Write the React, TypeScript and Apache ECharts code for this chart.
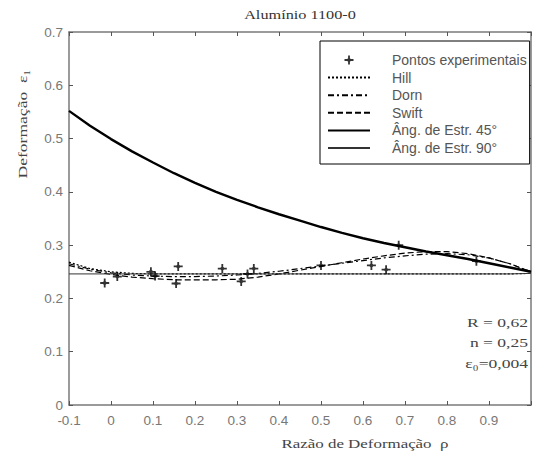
import React, { useEffect, useRef } from "react";
import * as echarts from "echarts";

const xGrid = [-0.1, -0.05, 0, 0.05, 0.1, 0.15, 0.2, 0.25, 0.3, 0.35, 0.4, 0.45, 0.5, 0.55, 0.6, 0.65, 0.7, 0.75, 0.8, 0.85, 0.9, 0.95, 1.0];
const ang45 = [0.552, 0.524, 0.499, 0.476, 0.455, 0.435, 0.417, 0.4, 0.385, 0.371, 0.358, 0.346, 0.334, 0.323, 0.313, 0.304, 0.296, 0.288, 0.281, 0.274, 0.266, 0.258, 0.25];
const ang90 = [0.246, 0.246, 0.246, 0.246, 0.246, 0.246, 0.246, 0.246, 0.246, 0.246, 0.246, 0.246, 0.246, 0.246, 0.246, 0.246, 0.246, 0.246, 0.246, 0.246, 0.246, 0.246, 0.247];
const hill = [0.268, 0.256, 0.25, 0.247, 0.246, 0.246, 0.246, 0.246, 0.246, 0.246, 0.246, 0.246, 0.246, 0.246, 0.246, 0.246, 0.246, 0.246, 0.246, 0.246, 0.246, 0.246, 0.247];
const dorn = [0.265, 0.255, 0.248, 0.244, 0.242, 0.241, 0.241, 0.242, 0.244, 0.247, 0.251, 0.256, 0.261, 0.266, 0.271, 0.276, 0.28, 0.283, 0.284, 0.282, 0.276, 0.265, 0.25];
const swift = [0.262, 0.252, 0.245, 0.24, 0.237, 0.235, 0.235, 0.235, 0.236, 0.24, 0.246, 0.253, 0.26, 0.267, 0.274, 0.28, 0.285, 0.288, 0.288, 0.284, 0.276, 0.265, 0.25];

const expX = [-0.015, 0.015, 0.095, 0.105, 0.16, 0.155, 0.265, 0.31, 0.325, 0.34, 0.5, 0.62, 0.655, 0.685, 0.87];
const expY = [0.229, 0.241, 0.25, 0.242, 0.26, 0.228, 0.256, 0.232, 0.246, 0.256, 0.262, 0.262, 0.254, 0.3, 0.27];

const xTickLabels = ["-0.1", "0", "0.1", "0.2", "0.3", "0.4", "0.5", "0.6", "0.7", "0.8", "0.9", ""];
const yTickLabels = ["0", "0.1", "0.2", "0.3", "0.4", "0.5", "0.6", "0.7"];

const seriesNames = ["Pontos experimentais", "Hill", "Dorn", "Swift", "Âng. de Estr. 45°", "Âng. de Estr. 90°"];
const params = ["R = 0,62", "n = 0,25", "ε₀=0,004"];

const PLUS = "path://M4,0H6V4H10V6H6V10H4V6H0V4H4Z M5,2L8,5L5,8L2,5Z";

const pairs = (ys: number[]) => xGrid.map((x, i) => [x, ys[i]]);

export default function App() {
  const ref = useRef<HTMLDivElement>(null);
  useEffect(() => {
    if (!ref.current) return;
    const chart = echarts.init(ref.current, null, { renderer: "svg" });
    const axisLine = { show: true, onZero: false, lineStyle: { color: "#7a7a7a", width: 1.5 } };
    const tick = { show: true, inside: true, length: 4, lineStyle: { color: "#555", width: 1 } };
    const lineSeries = (name: string, data: number[], width: number, type: any, color = "#000") => ({
      name,
      type: "line",
      data: pairs(data),
      symbol: "none",
      showSymbol: false,
      lineStyle: { color, width, type },
      itemStyle: { color },
      z: 3,
    });
    const serif = "Liberation Serif";
    chart.setOption({
      animation: false,
      backgroundColor: "#fff",
      grid: { left: 69, right: 9, top: 32, bottom: 50 },
      xAxis: [
        {
          type: "value",
          min: -0.1,
          max: 1.0,
          interval: 0.1,
          axisLine,
          axisTick: tick,
          splitLine: { show: false },
          axisLabel: {
            show: true,
            margin: 8,
            color: "#777",
            fontFamily: "Liberation Sans",
            fontSize: 13.5,
            formatter: (v: number) => xTickLabels[Math.round((v + 0.1) * 10)] ?? "",
          },
        },
        {
          type: "value",
          position: "top",
          min: -0.1,
          max: 1.0,
          interval: 0.1,
          axisLine,
          axisTick: tick,
          splitLine: { show: false },
          axisLabel: { show: false },
        },
      ],
      yAxis: [
        {
          type: "value",
          min: 0,
          max: 0.7,
          interval: 0.1,
          axisLine,
          axisTick: tick,
          splitLine: { show: false },
          axisLabel: {
            show: true,
            margin: 6,
            color: "#777",
            fontFamily: "Liberation Sans",
            fontSize: 13.5,
            formatter: (v: number) => yTickLabels[Math.round(v * 10)] ?? "",
          },
        },
        {
          type: "value",
          position: "right",
          min: 0,
          max: 0.7,
          interval: 0.1,
          axisLine,
          axisTick: tick,
          splitLine: { show: false },
          axisLabel: { show: false },
        },
      ],
      legend: {
        orient: "vertical",
        left: 320,
        top: 41,
        data: seriesNames.map((n, i) => (i === 0 ? { name: n } : { name: n, itemStyle: { opacity: 0 } })),
        padding: [12, 3, 9, 7],
        itemWidth: 42,
        itemHeight: 9,
        itemGap: 3.6,
        borderColor: "#000",
        borderWidth: 1,
        backgroundColor: "#fff",
        textStyle: {
          fontFamily: "Liberation Sans",
          fontSize: 14,
          color: "#555",
          lineHeight: 14,
          padding: [0, 0, 0, 17],
        },
      },
      graphic: [
        {
          type: "text",
          x: 300,
          y: 15,
          scaleX: 1.25,
          style: {
            text: "Alumínio 1100-0",
            fontFamily: serif,
            fontSize: 13,
            fill: "#333",
            textAlign: "center",
            textVerticalAlign: "middle",
          },
        },
        {
          type: "text",
          x: 22,
          y: 124,
          rotation: Math.PI / 2,
          scaleX: 1.35,
          style: {
            text: "Deformação  ε₁",
            fontFamily: serif,
            fontSize: 13,
            fill: "#444",
            textAlign: "center",
            textVerticalAlign: "middle",
          },
        },
        {
          type: "text",
          x: 365,
          y: 444,
          scaleX: 1.3,
          style: {
            text: "Razão de Deformação  ρ",
            fontFamily: serif,
            fontSize: 13,
            fill: "#444",
            textAlign: "center",
            textVerticalAlign: "middle",
          },
        },
        ...params.map((t, i) => ({
          type: "text",
          x: 528,
          y: 322 + i * 20.7,
          scaleX: 1.3,
          style: {
            text: t,
            fontFamily: serif,
            fontSize: 13.5,
            fill: "#444",
            textAlign: "right",
            textVerticalAlign: "middle",
          },
        })),
      ],
      series: [
        {
          name: seriesNames[0],
          type: "scatter",
          data: expX.map((x, i) => [x, expY[i]]),
          symbol: PLUS,
          symbolSize: 9,
          itemStyle: { color: "#000" },
          z: 5,
        },
        lineSeries(seriesNames[1], hill, 1.2, [2, 2]),
        lineSeries(seriesNames[2], dorn, 1.2, [6, 3, 2, 3]),
        lineSeries(seriesNames[3], swift, 1.2, [6, 3]),
        lineSeries(seriesNames[4], ang45, 2.4, "solid"),
        lineSeries(seriesNames[5], ang90, 1, "solid", "#333"),
      ],
    });
    return () => chart.dispose();
  }, []);
  return <div ref={ref} style={{ position: "fixed", left: 0, top: 0, width: 540, height: 455 }} />;
}
